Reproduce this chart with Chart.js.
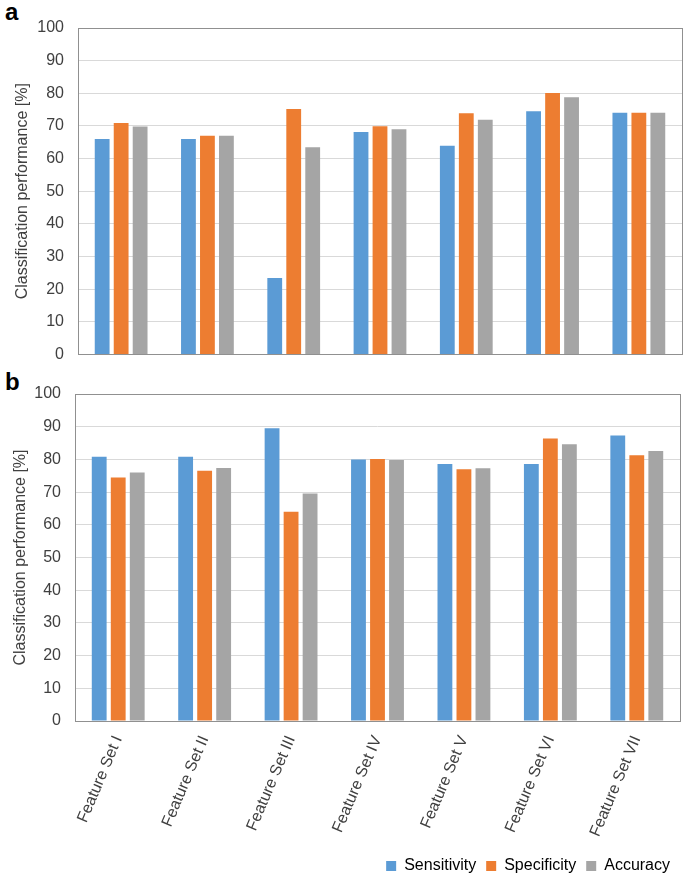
<!DOCTYPE html>
<html>
<head>
<meta charset="utf-8">
<script src="https://cdn.jsdelivr.net/npm/chart.js@4/dist/chart.umd.min.js"></script>
<style>
    html, body { margin: 0; padding: 0; background: #fff; overflow: hidden; }
    body { width: 685px; height: 878px; position: relative; font-family: "Liberation Sans", Arial, sans-serif; }
    .panel { position: absolute; left: 0; width: 685px; }
    .letter { position: absolute; left: 5px; font-size: 24px; font-weight: bold; line-height: 24px; color: #000; }
</style>
</head>
<body>
<div class="letter" style="top: 0px;">a</div>
<div class="letter" style="top: 370px;">b</div>
<div class="panel" style="top: 0; height: 378px;"><canvas id="chartA"></canvas></div>
<div class="panel" style="top: 370px; height: 514px;"><canvas id="chartB"></canvas></div>
<script>
const categories = ['Feature Set I', 'Feature Set II', 'Feature Set III', 'Feature Set IV', 'Feature Set V', 'Feature Set VI', 'Feature Set VII'];
const seriesNames = ['Sensitivity', 'Specificity', 'Accuracy'];

// panel a
const sensitivityA = [66, 66, 23.4, 68.1, 63.9, 74.5, 74];
const specificityA = [70.9, 67, 75.2, 69.9, 73.9, 80.1, 74];
const accuracyA = [69.8, 67, 63.5, 69, 71.9, 78.8, 74];

// panel b
const sensitivityB = [80.8, 80.8, 89.5, 80, 78.6, 78.6, 87.3];
const specificityB = [74.5, 76.5, 64, 80.1, 77, 86.4, 81.3];
const accuracyB = [76, 77.4, 69.6, 79.8, 77.3, 84.6, 82.6];

const yMin = 0, yMax = 100, yStep = 10;

const colors = ['#5b9bd5', '#ed7d31', '#a5a5a5'];
const textColor = '#404040';
const fontFamily = '"Liberation Sans", Arial, sans-serif';

// grey frame round the plot area, like the Excel original
const plotFrame = {
    id: 'plotFrame',
    beforeDatasetsDraw(chart) {
        const {ctx, chartArea} = chart;
        ctx.save();
        ctx.strokeStyle = '#909090';
        ctx.lineWidth = 1;
        ctx.strokeRect(Math.round(chartArea.left) + 0.5, Math.round(chartArea.top) + 0.5,
            Math.round(chartArea.right - chartArea.left), Math.round(chartArea.bottom - chartArea.top));
        ctx.restore();
    }
};

function makeDatasets(values) {
    return values.map((data, i) => ({
        label: seriesNames[i],
        data: data,
        backgroundColor: colors[i],
        borderWidth: 0,
        categoryPercentage: 0.66,
        barPercentage: 0.78
    }));
}

function createChart(canvas, values, opts) {
    return new Chart(canvas, {
        type: 'bar',
        data: {
            labels: categories,
            datasets: makeDatasets(values)
        },
        options: {
            responsive: true,
            maintainAspectRatio: false,
            animation: false,
            layout: {
                padding: {top: opts.top, right: opts.right, bottom: opts.bottom, left: 0}
            },
            scales: {
                x: {
                    grid: {display: false, drawTicks: false},
                    border: {display: false},
                    ticks: {
                        display: opts.showLabels,
                        color: textColor,
                        font: {family: fontFamily, size: 16},
                        minRotation: 67,
                        maxRotation: 67,
                        padding: 12,
                        autoSkip: false
                    },
                    afterFit: function(scale) {
                        scale.height = opts.xHeight;
                    }
                },
                y: {
                    min: yMin,
                    max: yMax,
                    grid: {color: '#d9d9d9', drawTicks: false},
                    border: {display: false},
                    ticks: {
                        stepSize: yStep,
                        color: textColor,
                        font: {family: fontFamily, size: 16},
                        padding: 14
                    },
                    title: {
                        display: true,
                        text: 'Classification performance [%]',
                        color: textColor,
                        font: {family: fontFamily, size: 16},
                        padding: {top: opts.titlePad, bottom: 0}
                    },
                    afterFit: function(scale) {
                        scale.width = opts.yWidth;
                    }
                }
            },
            plugins: {
                legend: {
                    display: opts.showLegend,
                    position: 'bottom',
                    align: 'end',
                    labels: {
                        boxWidth: 10,
                        boxHeight: 10,
                        padding: 10,
                        color: '#000',
                        font: {family: fontFamily, size: 16}
                    }
                },
                tooltip: {enabled: false}
            }
        },
        plugins: [plotFrame]
    });
}

createChart(document.getElementById('chartA'), [sensitivityA, specificityA, accuracyA], {
    top: 28, right: 3, bottom: 0, yWidth: 78, xHeight: 0, titlePad: 13,
    showLabels: false, showLegend: false
});

createChart(document.getElementById('chartB'), [sensitivityB, specificityB, accuracyB], {
    top: 24, right: 5, bottom: 0, yWidth: 75, xHeight: 127, titlePad: 11,
    showLabels: true, showLegend: true
});
</script>
</body>
</html>
